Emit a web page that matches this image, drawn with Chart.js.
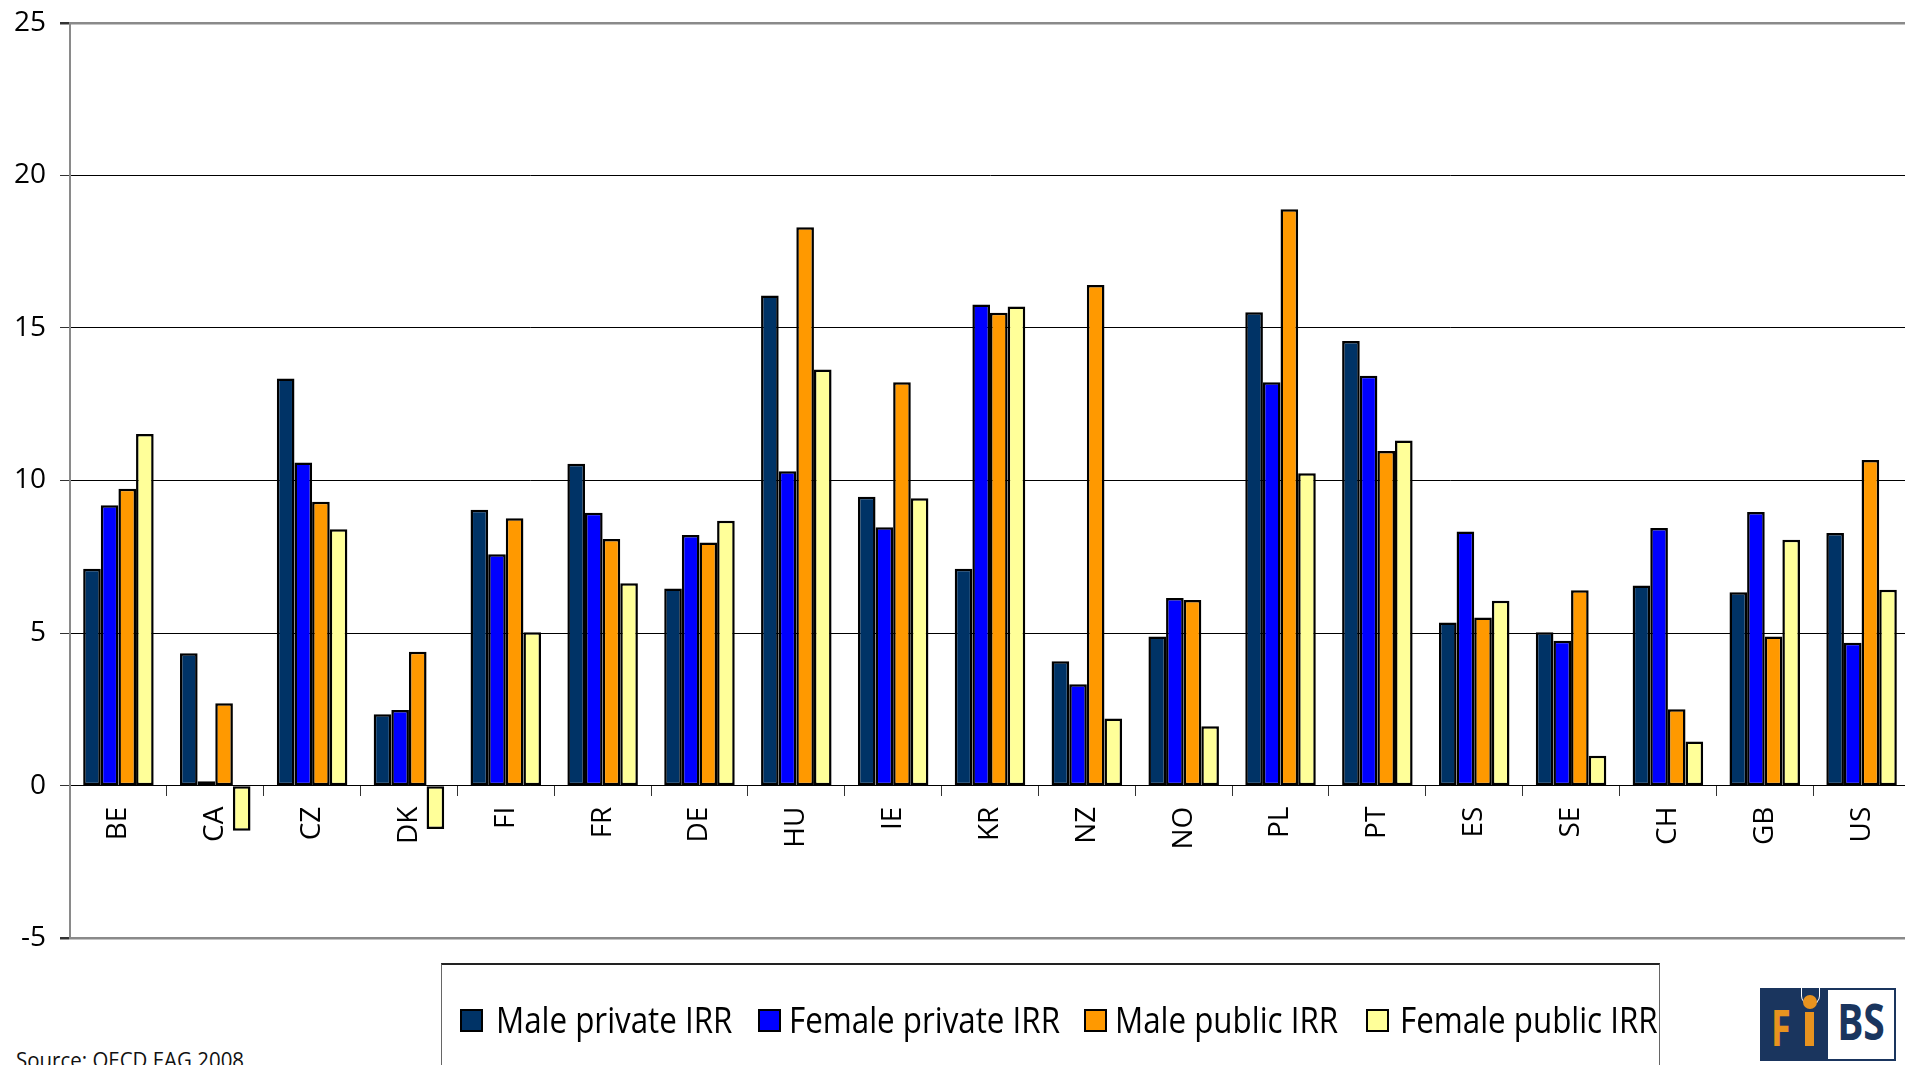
<!DOCTYPE html>
<html>
<head>
<meta charset="utf-8">
<script src="https://cdn.jsdelivr.net/npm/chart.js@4.4.0/dist/chart.umd.min.js"></script>
<style>
  html, body { margin: 0; padding: 0; background: #fff; overflow: hidden; width: 1905px; height: 1065px; }
  #wrap { position: absolute; left: 0; top: -8px; width: 1915px; height: 977px; }
  #legendBox { position: absolute; left: 441px; top: 963px; width: 1217px; height: 200px;
    border-top: 2px solid #222; border-left: 1px solid #666; border-right: 1px solid #666; }
  .lg-box { position: absolute; top: 1009px; width: 23px; height: 23px; box-sizing: border-box; border: 2px solid #000; }
  .lg-txt { position: absolute; top: 1002px; font: 36px 'Open Sans', sans-serif; line-height: 1; color: #000; white-space: nowrap;
    transform: scaleX(0.87); transform-origin: left center; }
  #source { position: absolute; left: 16px; top: 1048px; font: 22px 'Open Sans', sans-serif; line-height: 1; color: #111; white-space: nowrap;
    transform: scaleX(0.93); transform-origin: left center; }
  #logo { position: absolute; left: 1760px; top: 988px; width: 136px; height: 73px; background: #1a355e; }
  #logo .bs { position: absolute; left: 68px; top: 2px; width: 66px; height: 69px; background: #fff; }
  #logo .bs span { position: absolute; left: 0; width: 66px; top: 6px; text-align: center; font: bold 50px 'Open Sans', sans-serif;
    line-height: 1; color: #1a355e; transform: scaleX(0.78); }
  #logo .f { position: absolute; left: 11px; top: 14px; font: bold 50px 'Open Sans', sans-serif; line-height: 1; color: #e8931f; transform: scaleX(0.72); transform-origin: left; }
  #logo .stem { position: absolute; left: 45px; top: 24px; width: 9px; height: 34px; background: #e8931f; }
  #logo .notch { position: absolute; left: 41px; top: -1px; width: 17px; height: 17px; border: 1px solid #fff; border-top: none; border-radius: 0 0 9px 9px; }
  #logo .dot { position: absolute; left: 43px; top: 7px; width: 14px; height: 14px; border-radius: 50%; background: #e8931f; }
</style>
</head>
<body>
<div id="wrap"><canvas id="c"></canvas></div>
<div id="legendBox"></div>
<div id="legend"></div>
<div id="source">Source: OECD EAG 2008</div>
<div id="logo">
  <div class="notch"></div>
  <span class="f">F</span>
  <div class="stem"></div>
  <div class="dot"></div>
  <div class="bs"><span>BS</span></div>
</div>
<script>
const countries = ['BE', 'CA', 'CZ', 'DK', 'FI', 'FR', 'DE', 'HU', 'IE', 'KR', 'NZ', 'NO', 'PL', 'PT', 'ES', 'SE', 'CH', 'GB', 'US'];

const malePrivate   = [7.11, 4.34, 13.34, 2.34, 9.04, 10.55, 6.46, 16.06, 9.47, 7.11, 4.08, 4.89, 15.51, 14.57, 5.35, 5.03, 6.56, 6.34, 8.28];
const femalePrivate = [9.19, 0.14, 10.59, 2.48, 7.58, 8.94, 8.21, 10.30, 8.47, 15.77, 3.32, 6.15, 13.22, 13.43, 8.33, 4.75, 8.44, 8.97, 4.68];
const malePublic    = [9.73, 2.70, 9.30, 4.39, 8.76, 8.08, 7.97, 18.30, 13.22, 15.50, 16.41, 6.08, 18.89, 10.97, 5.51, 6.40, 2.50, 4.89, 10.67];
const femalePublic  = [11.52, -1.48, 8.40, -1.42, 5.03, 6.63, 8.68, 13.64, 9.42, 15.70, 2.20, 1.95, 10.24, 11.31, 6.06, 0.98, 1.45, 8.06, 6.42];

const seriesNames = ['Male private IRR', 'Female private IRR', 'Male public IRR', 'Female public IRR'];
const seriesColors = ['#003366', '#0000ff', '#ff9900', '#ffff99'];

const yMin = -5, yMax = 25, yStep = 5;

const seriesValues = [malePrivate, femalePrivate, malePublic, femalePublic];

const datasets = seriesNames.map((name, i) => ({
  label: name,
  data: seriesValues[i],
  backgroundColor: seriesColors[i],
  borderColor: '#000',
  borderWidth: 2.5,
  borderSkipped: false,
  barPercentage: 1.0,
  categoryPercentage: 0.728
}));

const edge = v => v === yMin || v === yMax;

new Chart(document.getElementById('c'), {
  type: 'bar',
  data: { labels: countries, datasets: datasets },
  options: {
    responsive: true,
    maintainAspectRatio: false,
    animation: false,
    layout: { padding: { top: 24, bottom: 25, right: 5, left: 0 } },
    plugins: { legend: { display: false }, tooltip: { enabled: false } },
    scales: {
      x: {
        position: { y: 0 },
        grid: { drawOnChartArea: false, drawTicks: true, tickLength: 10, color: '#333', offset: true },
        border: { display: true, color: '#000', width: 1 },
        ticks: {
          minRotation: 90, maxRotation: 90, autoSkip: false, padding: 11,
          color: '#000', font: { family: 'Open Sans', size: 28 }
        }
      },
      y: {
        min: yMin, max: yMax,
        afterFit: s => { s.width = 70; },
        grid: {
          color: ctx => edge(ctx.tick.value) ? '#8a8a8a' : '#000',
          lineWidth: ctx => edge(ctx.tick.value) ? 2.5 : 1,
          tickColor: '#333', tickLength: 10
        },
        border: { display: true, color: '#8a8a8a', width: 2 },
        ticks: {
          stepSize: yStep, padding: 14, color: '#000',
          font: { family: 'Open Sans', size: 28 }
        }
      }
    }
  }
});

// legend built from the series
const boxX = [460, 758, 1084, 1366];
const txtX = [496, 789, 1115, 1400];
const legend = document.getElementById('legend');
seriesNames.forEach((name, i) => {
  const b = document.createElement('div');
  b.className = 'lg-box';
  b.style.left = boxX[i] + 'px';
  b.style.background = seriesColors[i];
  legend.appendChild(b);
  const t = document.createElement('div');
  t.className = 'lg-txt';
  t.style.left = txtX[i] + 'px';
  t.textContent = name;
  legend.appendChild(t);
});
</script>
</body>
</html>
